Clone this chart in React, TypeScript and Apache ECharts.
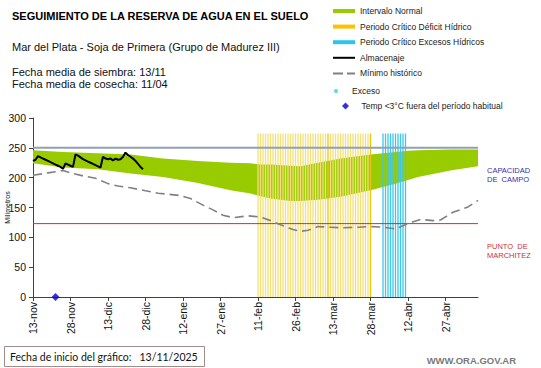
import React, { useEffect, useRef } from 'react';
import * as echarts from 'echarts';

// ---------- data ----------
const chartStart = '13/11/2025';
const tickLabels = ['13-nov', '28-nov', '13-dic', '28-dic', '12-ene', '27-ene', '11-feb', '26-feb', '13-mar', '28-mar', '12-abr', '27-abr'];
const tickStep = 15;
const lastDay = 178;

// Intervalo normal (days since 13-nov)
const normalDays = [0, 12, 26, 39, 52, 66, 79, 87, 91, 95, 103, 107, 114, 123, 135, 145, 150, 154, 167, 178];
const normalLower = [224, 217, 214, 207, 201, 191, 179, 173.5, 169, 165, 161, 161, 163, 168, 179, 190, 196, 201, 212, 219];
const normalUpper = [246, 243, 241, 239, 232, 228, 225, 224, 222, 222, 220, 219, 225, 232, 239, 243, 245, 246, 247, 247];

// Almacenaje, daily from day 0
const storageValues = [
  228, 230, 236, 234, 232, 230, 228, 226, 224, 222,
  220, 218, 215, 224, 222, 220, 218, 239, 237, 234,
  231, 229, 227, 225, 223, 221, 219, 217, 235, 232,
  231, 232, 229, 232, 230, 231, 235, 242, 238, 235,
  232, 228, 223, 218, 214,
];

// Mínimo histórico
const minDays = [0, 6, 12, 16, 20, 25, 30, 34, 39, 45, 50, 59, 63, 68, 72, 76, 80, 86, 91, 95, 99, 104, 107, 110, 114, 119, 123, 130, 135, 140, 145, 150, 155, 160, 163, 168, 174, 178];
const minValues = [204, 208, 212, 207, 203, 199, 190, 186, 183, 178, 174, 170, 165, 154, 146, 137, 133, 136, 134, 128, 121, 113, 110, 112, 118, 117, 116, 117, 118, 117, 114, 123, 130, 128, 129, 142, 151, 162];

// Critical periods (first day, last day) and bar top
const deficitPeriod = [90, 135];
const deficitAccentDays = [118, 135];
const excessPeriod = [140, 149];
const periodTop = 274;

// Reference levels
const fieldCapacity = 250;
const wiltingPoint = 123;

// Exceso (none) and Temp < 3°C
const excessDays: number[] = [];
const excessValues: number[] = [];
const tempDays = [9];
const tempValues = [0];

const FONT = '"Liberation Sans", Arial, sans-serif';

function periodData(p: number[], accent: number[] = [], accentColor = '') {
  const out: any[] = [];
  for (let d = p[0]; d <= p[1]; d++) {
    if (accent.includes(d)) out.push({ value: [d, periodTop], itemStyle: { color: accentColor } });
    else out.push([d, periodTop]);
  }
  return out;
}

export default function App() {
  const ref = useRef<HTMLDivElement>(null);
  useEffect(() => {
    if (!ref.current) return;
    const chart = echarts.init(ref.current, null, { renderer: 'svg' });
    const tickValues = tickLabels.map((_, i) => i * tickStep);
    const txt = (text: string, x: number, y: number, font: string, fill: string, align = 'left') => ({
      type: 'text',
      x,
      y,
      style: { text, font, fill, align, textAlign: align, verticalAlign: 'middle', textVerticalAlign: 'middle' },
    });
    const legendText = { fontSize: 8.5, color: '#222', lineHeight: 10, fontFamily: FONT };
    const option: any = {
      animation: false,
      backgroundColor: '#ffffff',
      textStyle: { fontFamily: FONT },
      grid: { left: 33, right: 63, top: 118, bottom: 71, containLabel: false, outerBoundsMode: 'none' },
      xAxis: {
        type: 'value',
        min: 0,
        max: lastDay,
        interval: tickStep,
        splitLine: { show: false },
        axisLine: { show: true, lineStyle: { color: '#404040', width: 1 } },
        axisTick: { show: true, length: 4, lineStyle: { color: '#404040' }, customValues: tickValues },
        axisLabel: {
          customValues: tickValues,
          rotate: 90,
          fontSize: 10.5,
          fontFamily: FONT,
          color: '#111',
          margin: 5,
          formatter: (v: number) => tickLabels[Math.round(v / tickStep)] ?? '',
        },
      },
      yAxis: {
        type: 'value',
        min: 0,
        max: 300,
        interval: 50,
        name: 'Milímetros',
        nameLocation: 'middle',
        nameGap: 22,
        nameMoveOverlap: false,
        nameTextStyle: { fontSize: 7, color: '#111', fontFamily: FONT },
        splitLine: { show: false },
        axisLine: { show: true, lineStyle: { color: '#404040', width: 1 } },
        axisTick: { show: true, length: 4, lineStyle: { color: '#404040' } },
        axisLabel: { fontSize: 10.5, color: '#111', margin: 7, fontFamily: FONT },
      },
      legend: [
        {
          orient: 'vertical',
          left: 333,
          top: 6,
          padding: 0,
          itemWidth: 22,
          itemHeight: 4,
          itemGap: 5.6,
          selectedMode: false,
          textStyle: legendText,
          data: [
            { name: 'Intervalo Normal', icon: 'rect', itemStyle: { color: '#99cc00' } },
            { name: 'Periodo Crítico Déficit Hídrico', icon: 'rect', itemStyle: { color: '#ffc000' } },
            { name: 'Periodo Crítico Excesos Hídricos', icon: 'rect', itemStyle: { color: '#2ec4ea' } },
            { name: 'Almacenaje', icon: 'path://M0,0h22v2h-22z', itemStyle: { color: '#000' } },
            { name: 'Mínimo histórico', icon: 'path://M0,0h10v2h-10zM14,0h8v2h-8z', itemStyle: { color: '#808080' } },
          ],
        },
        {
          orient: 'vertical',
          left: 334,
          top: 86,
          padding: 0,
          itemWidth: 22,
          itemHeight: 4,
          selectedMode: false,
          textStyle: legendText,
          data: [{ name: 'Exceso', icon: 'circle', itemStyle: { color: '#33ccee' } }],
        },
        {
          orient: 'vertical',
          left: 342,
          top: 101,
          padding: 0,
          itemWidth: 22,
          itemHeight: 7,
          selectedMode: false,
          textStyle: legendText,
          data: [
            {
              name: 'Temp <3°C fuera del período habitual',
              icon: 'path://M3.5,0L7,3.5L3.5,7L0,3.5Z',
              itemStyle: { color: '#0000cc' },
            },
          ],
        },
      ],
      series: [
        {
          name: 'Intervalo Normal',
          type: 'custom',
          color: '#99cc00',
          itemStyle: { color: '#99cc00' },
          encode: { x: 0, y: [1, 2] },
          data: normalDays.map((d, i) => [d, normalLower[i], normalUpper[i]]),
          renderItem: (params: any, api: any) => {
            if (params.dataIndex !== 0) return null;
            const top = normalDays.map((d, i) => api.coord([d, normalUpper[i]]));
            const bottom = normalDays.map((d, i) => api.coord([d, normalLower[i]])).reverse();
            return {
              type: 'polygon',
              shape: { points: top.concat(bottom) },
              style: { fill: '#99cc00', stroke: 'none' },
            };
          },
        },
        {
          name: 'Periodo Crítico Déficit Hídrico',
          type: 'bar',
          barWidth: 1.3,
          barGap: '-100%',
          color: '#f5df78',
          itemStyle: { color: '#f5df78' },
          data: periodData(deficitPeriod, deficitAccentDays, '#ecc418'),
        },
        {
          name: 'Periodo Crítico Excesos Hídricos',
          type: 'bar',
          barWidth: 1.3,
          barGap: '-100%',
          color: '#3fc6ea',
          itemStyle: { color: '#3fc6ea' },
          data: periodData(excessPeriod),
        },
        {
          name: '_wilting',
          type: 'line',
          symbol: 'none',
          silent: true,
          color: '#c0392b',
          lineStyle: { width: 1, color: '#c0392b' },
          data: [[0, wiltingPoint], [lastDay, wiltingPoint]],
        },
        {
          name: '_capacity',
          type: 'line',
          symbol: 'none',
          silent: true,
          color: '#8fa0b8',
          lineStyle: { width: 2, color: '#8fa0b8' },
          data: [[0, fieldCapacity], [lastDay, fieldCapacity]],
        },
        {
          name: 'Mínimo histórico',
          type: 'line',
          symbol: 'none',
          color: '#808080',
          lineStyle: { width: 1.6, color: '#808080', type: [9, 5] },
          data: minDays.map((d, i) => [d, minValues[i]]),
        },
        {
          name: 'Almacenaje',
          type: 'line',
          symbol: 'none',
          color: '#000000',
          lineStyle: { width: 2, color: '#000000' },
          data: storageValues.map((v, i) => [i, v]),
        },
        {
          name: 'Exceso',
          type: 'scatter',
          symbol: 'circle',
          symbolSize: 4,
          color: '#33ccee',
          data: excessDays.map((d, i) => [d, excessValues[i]]),
        },
        {
          name: 'Temp <3°C fuera del período habitual',
          type: 'scatter',
          symbol: 'diamond',
          symbolSize: 8,
          color: '#0000cc',
          clip: false,
          data: tempDays.map((d, i) => [d, tempValues[i]]),
        },
      ],
      graphic: [
        txt('SEGUIMIENTO DE LA RESERVA DE AGUA EN EL SUELO', 12, 16, `bold 11px ${FONT}`, '#000'),
        txt('Mar del Plata - Soja de Primera (Grupo de Madurez III)', 12, 47, `11px ${FONT}`, '#111'),
        txt('Fecha media de siembra: 13/11', 12, 72, `11px ${FONT}`, '#111'),
        txt('Fecha media de cosecha: 11/04', 12, 84, `11px ${FONT}`, '#111'),
        txt('CAPACIDAD', 487, 170, `7.5px ${FONT}`, '#3030b8'),
        txt('DE  CAMPO', 487, 179, `7.5px ${FONT}`, '#3030b8'),
        txt('PUNTO  DE', 487, 246, `7.5px ${FONT}`, '#cc3333'),
        txt('MARCHITEZ', 487, 255, `7.5px ${FONT}`, '#cc3333'),
        {
          type: 'rect',
          shape: { x: 4.5, y: 346.5, width: 200, height: 20 },
          style: { fill: '#ffffff', stroke: '#a08c8c', lineWidth: 1 },
        },
        txt(`Fecha de inicio del gráfico:   ${chartStart}`, 10, 357, `10.5px Lato, ${FONT}`, '#111'),
        txt('WWW.ORA.GOV.AR', 516, 360, `bold 9.5px ${FONT}`, '#7a7a7a', 'right'),
      ],
    };
    chart.setOption(option);
    return () => chart.dispose();
  }, []);
  return <div ref={ref} style={{ position: 'absolute', left: 0, top: 0, width: 541, height: 368 }} />;
}
